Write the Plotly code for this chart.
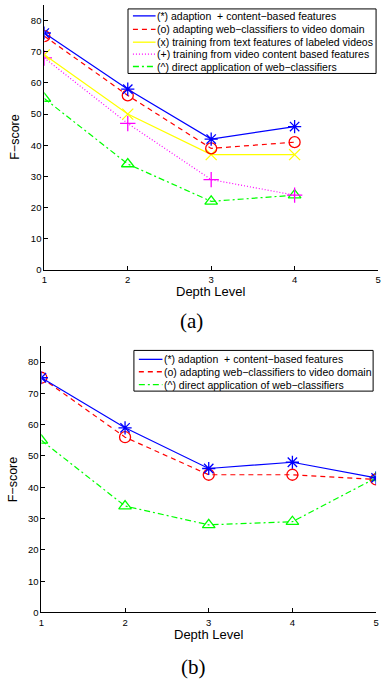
import plotly.graph_objects as go

depth_a = [1, 2, 3, 4]
adapt_content_a = [76, 58, 42, 46]
adapt_web_a = [75, 56, 39, 41]
text_train_a = [69, 50, 37, 37]
video_train_a = [68, 47, 29, 24]
direct_a = [55, 34, 22, 24]

depth_b = [1, 2, 3, 4, 5]
adapt_content_b = [75, 59, 46, 48, 43]
adapt_web_b = [75, 56, 44, 44, 42.5]
direct_b = [55, 34, 28, 29, 43]

labels = {
    "ac": "(*) adaption  + content\u2212based features",
    "aw": "(o) adapting web\u2212classifiers to video domain",
    "tt": "(x) training from text features of labeled videos",
    "vt": "(+) training from video content based features",
    "dr": "(^) direct application of web\u2212classifiers",
}
styles = {
    "ac": dict(color="#0000FF", dash="solid", symbol="asterisk-open"),
    "aw": dict(color="#FF0000", dash="5px,4px", symbol="circle-open"),
    "tt": dict(color="#FFFF00", dash="solid", symbol="x-thin-open"),
    "vt": dict(color="#FF00FF", dash="1px,2px", symbol="cross-thin-open"),
    "dr": dict(color="#00FF00", dash="6px,3px,2px,3px", symbol="triangle-up-open"),
}

W, H = 383, 682
fig = go.Figure()

def add(key, x, y, xa, ya):
    s = styles[key]
    fig.add_trace(go.Scatter(
        x=x, y=y, mode="lines+markers", xaxis=xa, yaxis=ya, showlegend=False,
        name=labels[key],
        line=dict(color=s["color"], dash=s["dash"], width=1.2),
        marker=dict(symbol=s["symbol"], size=11, color=s["color"],
                    line=dict(color=s["color"], width=1.3)),
    ))

add("dr", depth_a, direct_a, "x", "y")
add("vt", depth_a, video_train_a, "x", "y")
add("tt", depth_a, text_train_a, "x", "y")
add("aw", depth_a, adapt_web_a, "x", "y")
add("ac", depth_a, adapt_content_a, "x", "y")

add("dr", depth_b, direct_b, "x2", "y2")
add("aw", depth_b, adapt_web_b, "x2", "y2")
add("ac", depth_b, adapt_content_b, "x2", "y2")

def px_x(v):
    return v / W

def px_y(v):
    return 1 - v / H

tickfont = dict(family="Liberation Sans, Arial", size=9.5, color="#000")
axis_common = dict(showline=True, linecolor="#000", linewidth=1, ticks="inside",
                   ticklen=4, tickcolor="#000", showgrid=False, zeroline=False,
                   tickfont=tickfont, mirror=False)

fig.update_layout(
    width=W, height=H, margin=dict(l=0, r=0, t=0, b=0),
    paper_bgcolor="white", plot_bgcolor="white",
    xaxis=dict(domain=[px_x(42), px_x(381)], range=[1, 5], anchor="y",
               tickvals=[1, 2, 3, 4, 5], ticklabelstandoff=1, **axis_common),
    yaxis=dict(domain=[px_y(272), px_y(5)], range=[0, 85], anchor="x",
               tickvals=list(range(0, 81, 10)), **axis_common),
    xaxis2=dict(domain=[px_x(39), px_x(379)], range=[1, 5], anchor="y2",
                tickvals=[1, 2, 3, 4, 5], ticklabelstandoff=1, **axis_common),
    yaxis2=dict(domain=[px_y(617), px_y(349)], range=[0, 85], anchor="x2",
                tickvals=list(range(0, 81, 10)), **axis_common),
    showlegend=False,
)

ann = []
shapes = []

def txt(x, y, t, size, family="Liberation Sans, Arial", angle=0, xanchor="center"):
    ann.append(dict(x=px_x(x), y=px_y(y), xref="paper", yref="paper", text=t,
                    showarrow=False, xanchor=xanchor, yanchor="middle",
                    textangle=angle, borderpad=0,
                    font=dict(family=family, size=size, color="#000")))

txt(211, 294, "Depth Level", 13)
txt(209, 639, "Depth Level", 13)
txt(12, 138, "F\u2212score", 12.5, angle=-90)
txt(11, 483, "F\u2212score", 12.5, angle=-90)
txt(192, 323, "(a)", 21, family="Liberation Serif, Times New Roman")
txt(194, 672, "(b)", 21, family="Liberation Serif, Times New Roman")

def legend(box, rows, keys, lx0, lx1, tx):
    x0, y0, x1, y1 = box
    shapes.append(dict(type="rect", xref="paper", yref="paper",
                       x0=px_x(x0), x1=px_x(x1), y0=px_y(y1), y1=px_y(y0),
                       line=dict(color="#000", width=1), fillcolor="white", layer="above"))
    for ry, k in zip(rows, keys):
        s = styles[k]
        shapes.append(dict(type="line", xref="paper", yref="paper",
                           x0=px_x(lx0), x1=px_x(lx1), y0=px_y(ry), y1=px_y(ry),
                           line=dict(color=s["color"], dash=s["dash"], width=1.3),
                           layer="above"))
        txt(tx, ry, labels[k], 10.5, xanchor="left")

legend((127, 9, 379, 74), [16, 29.5, 42.5, 54.5, 67],
       ["ac", "aw", "tt", "vt", "dr"], 132, 155, 155)
legend((133, 353, 376, 394), [362, 374.5, 387.5],
       ["ac", "aw", "dr"], 138, 162, 162.5)

fig.update_layout(annotations=ann, shapes=shapes)
fig.write_html("out.html")
